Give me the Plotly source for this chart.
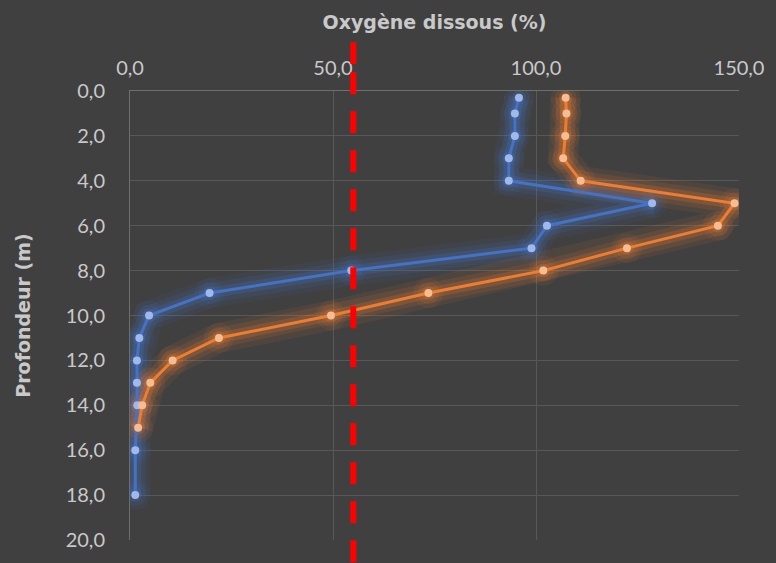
import plotly.graph_objects as go

# Data
depth_blue = [0.3, 1, 2, 3, 4, 5, 6, 7, 8, 9, 10, 11, 12, 13, 14, 16, 18]
oxy_blue = [95.8, 94.8, 94.8, 93.3, 93.3, 128.6, 102.7, 98.9, 54.5, 19.6, 4.7, 2.3, 1.7, 1.7, 1.8, 1.3, 1.3]

depth_orange = [0.3, 1, 2, 3, 4, 5, 6, 7, 8, 9, 10, 11, 12, 13, 14, 15]
oxy_orange = [107.3, 107.5, 107.2, 106.7, 111.0, 148.9, 144.8, 122.4, 101.8, 73.5, 49.5, 21.9, 10.5, 5.0, 3.0, 2.0]

threshold = 55
x_ticks = [0, 50, 100, 150]
x_ticklabels = ["0,0", "50,0", "100,0", "150,0"]
y_ticks = [0, 2, 4, 6, 8, 10, 12, 14, 16, 18, 20]
y_ticklabels = ["0,0", "2,0", "4,0", "6,0", "8,0", "10,0", "12,0", "14,0", "16,0", "18,0", "20,0"]

BG = "#404040"
TXT = "#c9c9c9"
GRID = "#585858"
TICKFONT = "Lato, 'Open Sans', sans-serif"
TITLEFONT = "'DejaVu Sans', sans-serif"

series = [
    (oxy_blue, depth_blue, "#4472C4", "#a0b9ec", (68, 114, 196)),
    (oxy_orange, depth_orange, "#ED7D31", "#f7bd92", (237, 125, 49)),
]

fig = go.Figure()
# glow layers
for x, y, c, mc, rgb in series:
    for w, ms, a in [(30, 30, 0.08), (20, 22, 0.12), (11, 14, 0.2)]:
        col = "rgba(%d,%d,%d,%.2f)" % (rgb[0], rgb[1], rgb[2], a)
        fig.add_trace(go.Scatter(x=x, y=y, mode="lines+markers", hoverinfo="skip",
                                 line=dict(color=col, width=w), marker=dict(size=ms, color=col),
                                 showlegend=False))
for x, y, c, mc, rgb in series:
    fig.add_trace(go.Scatter(x=x, y=y, mode="lines+markers",
                             line=dict(color=c, width=3),
                             marker=dict(size=8, color=mc),
                             showlegend=False))

PLOT_TOP = 91
PLOT_H = 455
def py(pix):
    return (PLOT_TOP + PLOT_H - pix) / PLOT_H

xd = threshold / 150
dash_pattern = "21.6px,8.4px," + ",".join(["22px,17px"] * 14)
fig.add_shape(type="line", xref="paper", yref="paper",
              x0=xd, x1=xd, y0=py(41.7), y1=py(580),
              line=dict(color="#ff0000", width=6, dash=dash_pattern), layer="above")

fig.update_layout(
    width=776, height=563,
    paper_bgcolor=BG, plot_bgcolor=BG,
    margin=dict(l=130, r=34, t=91, b=17),
    font=dict(family=TICKFONT, color=TXT, size=20),
    showlegend=False,
)
fig.update_xaxes(
    side="top", range=[0, 150], tickvals=x_ticks, ticktext=x_ticklabels,
    showgrid=True, gridcolor=GRID, gridwidth=1, zeroline=False,
    showline=True, linecolor="#6e6e6e", linewidth=1,
    ticks="", ticklabelstandoff=7,
    tickfont=dict(size=20, color=TXT, family=TICKFONT),
    title=dict(text="<b>Oxygène dissous (%)</b>", font=dict(size=19, color=TXT, family=TITLEFONT), standoff=20),
)
fig.update_yaxes(
    range=[20, 0], tickvals=y_ticks, ticktext=y_ticklabels,
    showgrid=True, gridcolor=GRID, gridwidth=1, zeroline=False,
    showline=True, linecolor="#6e6e6e", linewidth=1,
    ticks="outside", ticklen=20, tickcolor="rgba(0,0,0,0)",
    tickfont=dict(size=20, color=TXT, family=TICKFONT),
    title=dict(text="<b>Profondeur (m)</b>", font=dict(size=19, color=TXT, family=TITLEFONT), standoff=30),
)

fig.write_html("out.html", config={"displayModeBar": False},
               post_script="document.body.style.margin='0';document.body.style.overflow='hidden';")
